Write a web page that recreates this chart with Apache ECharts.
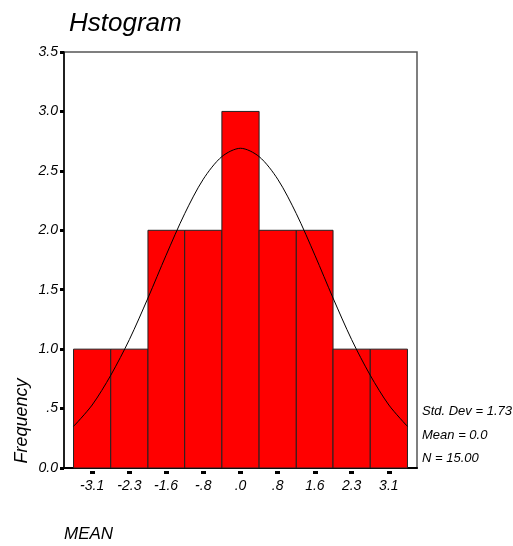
<!DOCTYPE html>
<html>
<head>
<meta charset="utf-8">
<script src="https://cdn.jsdelivr.net/npm/echarts@6/dist/echarts.min.js"></script>
<style>
  html, body { margin: 0; padding: 0; background: #fff; }
  #chart { width: 513px; height: 546px; }
</style>
</head>
<body>
<div id="chart"></div>
<script>
// histogram bins (MEAN), edges in data units
const binEdges = [-3.5, -2.72, -1.94, -1.17, -0.39, 0.39, 1.17, 1.94, 2.72, 3.5];
const binCenters = [-3.11, -2.33, -1.56, -0.78, 0, 0.78, 1.56, 2.33, 3.11];
const binLabels = ['-3.1', '-2.3', '-1.6', '-.8', '.0', '.8', '1.6', '2.3', '3.1'];
const counts = [1, 1, 2, 2, 3, 2, 2, 1, 1];

// normal curve at bin edges / centres
const curveX = [-3.5, -3.11, -2.72, -2.33, -1.94, -1.56, -1.17, -0.78, -0.39, 0,
  0.39, 0.78, 1.17, 1.56, 1.94, 2.33, 2.72, 3.11, 3.5];
const curveY = [0.35, 0.53, 0.78, 1.08, 1.43, 1.79, 2.14, 2.43, 2.62, 2.69,
  2.62, 2.43, 2.14, 1.79, 1.43, 1.08, 0.78, 0.53, 0.35];

const yTickLabels = ['0.0', '.5', '1.0', '1.5', '2.0', '2.5', '3.0', '3.5'];
const statLines = ['Std. Dev = 1.73', 'Mean = 0.0', 'N = 15.00'];

const FONT = 'Liberation Sans, Arial, sans-serif';

const chart = echarts.init(document.getElementById('chart'));

const barData = counts.map((c, i) => [binEdges[i], binEdges[i + 1], c]);

chart.setOption({
  animation: false,
  title: {
    text: 'Hstogram',
    left: 64,
    top: 6,
    textStyle: { fontFamily: FONT, fontStyle: 'italic', fontWeight: 'normal', fontSize: 26, color: '#000' }
  },
  grid: {
    left: 64, top: 52, right: 96, bottom: 78,
    show: true, borderColor: '#555', borderWidth: 1.5, backgroundColor: '#fff'
  },
  xAxis: [
    {
      type: 'value', min: -3.7, max: 3.7,
      axisLine: { show: true, onZero: false, lineStyle: { color: '#000', width: 2 } },
      axisTick: { show: false }, axisLabel: { show: false }, splitLine: { show: false }
    },
    {
      type: 'value', min: -3.7, max: 3.7, position: 'bottom', offset: 3,
      axisLine: { show: false, onZero: false },
      axisTick: { show: true, customValues: binCenters, length: 3, lineStyle: { color: '#000', width: 5 } },
      axisLabel: {
        show: true, customValues: binCenters, margin: 8,
        fontFamily: FONT, fontStyle: 'italic', fontSize: 14, color: '#000',
        formatter: v => binLabels[binCenters.indexOf(v)]
      },
      splitLine: { show: false }
    }
  ],
  yAxis: {
    type: 'value', min: 0, max: 3.5, interval: 0.5,
    axisLine: { show: true, onZero: false, lineStyle: { color: '#000', width: 1.5 } },
    axisTick: { show: true, length: 4, lineStyle: { color: '#000', width: 3 } },
    axisLabel: {
      margin: 6, padding: [6, 0, 0, 0],
      fontFamily: FONT, fontStyle: 'italic', fontSize: 14, color: '#000',
      formatter: v => yTickLabels[Math.round(v / 0.5)]
    },
    splitLine: { show: false }
  },
  series: [
    {
      type: 'custom',
      xAxisIndex: 0,
      data: barData,
      renderItem: (params, api) => {
        const p0 = api.coord([api.value(0), api.value(2)]);
        const p1 = api.coord([api.value(1), 0]);
        return {
          type: 'rect',
          shape: { x: p0[0], y: p0[1], width: p1[0] - p0[0], height: p1[1] - p0[1] },
          style: { fill: '#ff0000', stroke: '#222', lineWidth: 1 }
        };
      },
      z: 2
    },
    {
      type: 'line',
      xAxisIndex: 0,
      data: curveX.map((x, i) => [x, curveY[i]]),
      smooth: 0.3,
      symbol: 'none',
      lineStyle: { color: '#000', width: 1 },
      z: 3
    }
  ],
  graphic: [
    {
      type: 'text', x: 22, y: 421, rotation: Math.PI / 2,
      style: {
        text: 'Frequency', fontFamily: FONT, fontStyle: 'italic', fontSize: 18,
        fill: '#000', align: 'center', verticalAlign: 'middle'
      }
    },
    {
      type: 'text', x: 64, y: 534,
      style: {
        text: 'MEAN', fontFamily: FONT, fontStyle: 'italic', fontSize: 17,
        fill: '#000', align: 'left', verticalAlign: 'middle'
      }
    },
    ...statLines.map((t, i) => ({
      type: 'text', x: 422, y: [411, 435, 458][i],
      style: {
        text: t, fontFamily: FONT, fontStyle: 'italic', fontSize: 13,
        fill: '#000', align: 'left', verticalAlign: 'middle'
      }
    }))
  ]
});
</script>
</body>
</html>
